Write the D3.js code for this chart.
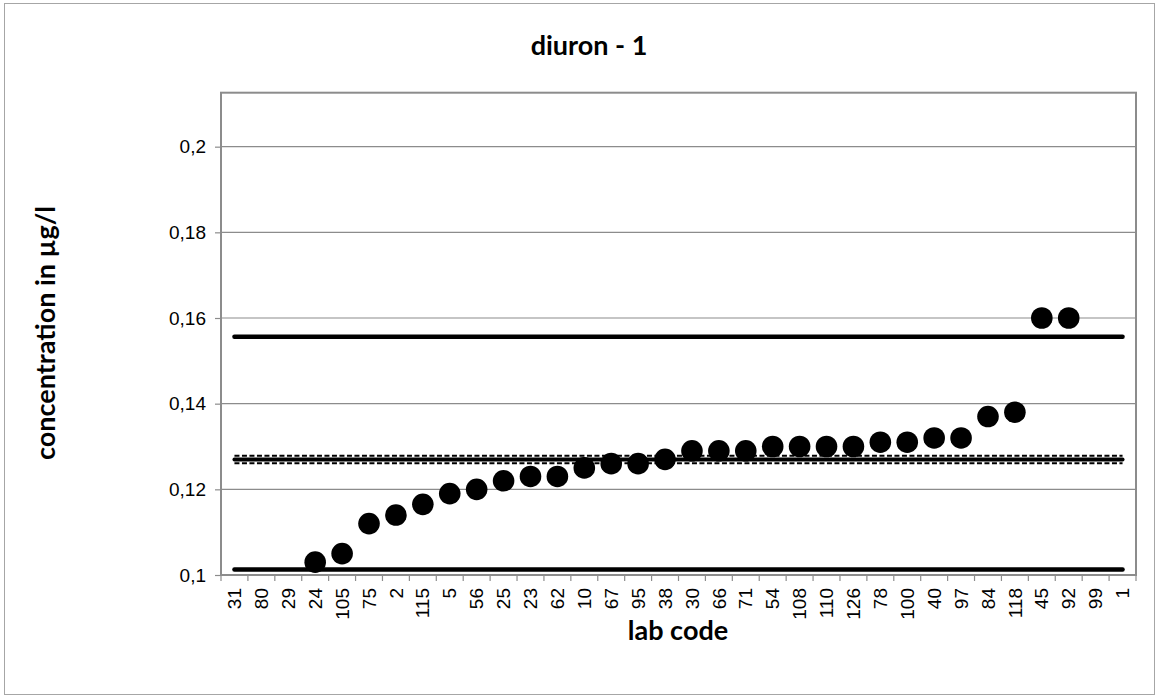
<!DOCTYPE html>
<html><head><meta charset="utf-8">
<script src="https://cdn.jsdelivr.net/npm/d3@7"></script>
<style>body{margin:0;background:#fff}</style>
</head><body>
<svg id="c" width="1157" height="699"></svg>
<script>
const labCodes = ["31","80","29","24","105","75","2","115","5","56","25","23","62","10","67","95","38","30","66","71","54","108","110","126","78","100","40","97","84","118","45","92","99","1"];
const values = [null,null,null,0.103,0.105,0.112,0.114,0.1165,0.119,0.120,0.122,0.123,0.123,0.125,0.126,0.126,0.127,0.129,0.129,0.129,0.130,0.130,0.130,0.130,0.131,0.131,0.132,0.132,0.137,0.138,0.160,0.160,null,null];
const yTicks = [0.1,0.12,0.14,0.16,0.18,0.2];
const yTickLabels = ["0,1","0,12","0,14","0,16","0,18","0,2"];
const assigned = 0.12695;
const assignedUnc = [0.12607, 0.12784];
const limits = [0.10128, 0.1556];
const yDomain = [0.1, 0.2126];

const svg = d3.select("#c");
const L = 221, R = 1136, T = 92.7, B = 575;
const x = d3.scaleBand().domain(labCodes).range([L, R]).padding(0);
const y = d3.scaleLinear().domain(yDomain).range([B, T]);
const tickFont = "'Liberation Sans', Arial, sans-serif";
const titleFont = "Lato, 'Open Sans', sans-serif";

// outer border
svg.append("rect").attr("x",4.5).attr("y",3.5).attr("width",1150).attr("height",691)
  .attr("fill","none").attr("stroke","#a6a6a6").attr("stroke-width",1);

// gridlines
svg.append("g").selectAll("line").data(yTicks.slice(1)).join("line")
  .attr("x1",L).attr("x2",R).attr("y1",d=>y(d)).attr("y2",d=>y(d))
  .attr("stroke","#8c8c8c").attr("stroke-width",1.2);

// y axis
const yAxis = d3.axisLeft(y).tickValues(yTicks).tickSize(6).tickFormat((d,i)=>yTickLabels[i]);
const gy = svg.append("g").attr("transform",`translate(${L},0)`).call(yAxis);
gy.select(".domain").remove();
gy.selectAll(".tick line").attr("stroke","#8c8c8c").attr("stroke-width",1.2);
gy.selectAll("text").attr("font-family",tickFont).attr("font-size",19).attr("fill","#000").attr("x",-15);

// x axis
const xAxis = d3.axisBottom(x).tickSize(0);
const gx = svg.append("g").attr("transform",`translate(0,${B})`).call(xAxis);
gx.select(".domain").remove();
gx.selectAll("text").attr("font-family",tickFont).attr("font-size",19).attr("fill","#000")
  .attr("transform","rotate(-90)").attr("text-anchor","end").attr("dy","0.35em").attr("x",-13).attr("y",0);
// category boundary ticks
const bounds = labCodes.map(d=>x(d)).concat([R]);
svg.append("g").selectAll("line").data(bounds).join("line")
  .attr("x1",d=>d).attr("x2",d=>d).attr("y1",B).attr("y2",B+6)
  .attr("stroke","#8c8c8c").attr("stroke-width",1.2);

// plot border
svg.append("rect").attr("x",L).attr("y",T).attr("width",R-L).attr("height",B-T)
  .attr("fill","none").attr("stroke","#8c8c8c").attr("stroke-width",2);

const x0 = x(labCodes[0]) + x.bandwidth()/2, x1 = x(labCodes[labCodes.length-1]) + x.bandwidth()/2;
// limit lines
svg.append("g").selectAll("line").data(limits).join("line")
  .attr("x1",x0).attr("x2",x1).attr("y1",d=>y(d)).attr("y2",d=>y(d))
  .attr("stroke","#000").attr("stroke-width",4.5).attr("stroke-linecap","round");
// assigned value
svg.append("line").attr("x1",x0).attr("x2",x1).attr("y1",y(assigned)).attr("y2",y(assigned))
  .attr("stroke","#000").attr("stroke-width",4).attr("stroke-linecap","round");
svg.append("g").selectAll("line").data(assignedUnc).join("line")
  .attr("x1",x0).attr("x2",x1).attr("y1",d=>y(d)).attr("y2",d=>y(d))
  .attr("stroke","#000").attr("stroke-width",2).attr("stroke-dasharray","5,2.5");

// points
svg.append("g").selectAll("circle").data(labCodes.map((c,i)=>({c,v:values[i]})).filter(d=>d.v!==null)).join("circle")
  .attr("cx",d=>x(d.c)+x.bandwidth()/2).attr("cy",d=>y(d.v)).attr("r",10.8).attr("fill","#000");

// titles
svg.append("text").attr("x",589).attr("y",55).attr("text-anchor","middle")
  .attr("font-family",titleFont).attr("font-weight","bold").attr("font-size",27).text("diuron - 1");
svg.append("text").attr("x",678).attr("y",640).attr("text-anchor","middle")
  .attr("font-family",titleFont).attr("font-weight","bold").attr("font-size",27).text("lab code");
svg.append("text").attr("transform","translate(55,333) rotate(-90)").attr("text-anchor","middle")
  .attr("font-family",titleFont).attr("font-weight","bold").attr("font-size",27).text("concentration in µg/l");
</script>
</body></html>
